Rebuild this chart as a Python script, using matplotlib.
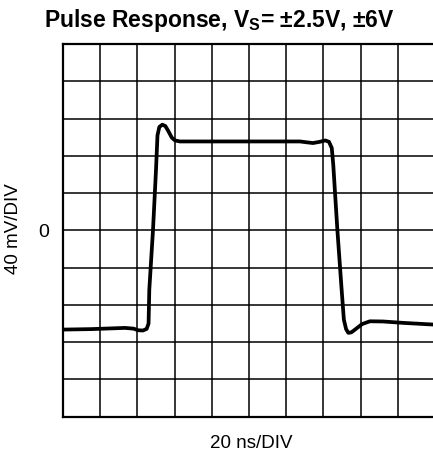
import matplotlib
matplotlib.use("Agg")
import matplotlib.pyplot as plt

plt.rcParams['font.family'] = ['Liberation Sans', 'DejaVu Sans']
plt.rcParams['mathtext.fontset'] = 'custom'
plt.rcParams['mathtext.rm'] = 'Liberation Sans'
plt.rcParams['mathtext.bf'] = 'Liberation Sans:bold'

# Scope trace: time (ns) and output voltage (mV)
time_ns = [0, 15, 33.3, 38, 40.3, 43, 45, 46, 46.4, 48.4, 50, 50.8, 51.8,
           53.4, 55, 56.5, 58.5, 60.2, 62.9, 90, 127.4, 131, 134.4, 138,
           141, 143, 144.5, 145.3, 147.5, 149.8, 151, 152.2, 153.4, 155,
           157, 160.8, 165, 172, 182.8, 199, 202]
voltage_mv = [-106.5, -106, -104.7, -105.5, -107.2, -107.5, -105.7, -100,
              -63.6, 0.8, 65, 102, 111, 113.4, 112, 107, 99.5, 96.5, 95.4,
              95.4, 95.4, 94.5, 93.7, 95, 96.5, 95, 88.4, 70.5, 0.8, -63.6,
              -95.8, -106, -110, -109.5, -106.5, -100.6, -97.6, -97.8,
              -99.3, -101.1, -101.3]

x_ticks = list(range(0, 201, 20))
y_ticks = list(range(-200, 201, 40))

fig = plt.figure(figsize=(4.33, 4.57), dpi=100)
ax = fig.add_axes([63 / 433, 1 - 416.7 / 457, 372 / 433, 372.7 / 457])

ax.plot(time_ns, voltage_mv, color='black', lw=2.7,
        solid_joinstyle='round', solid_capstyle='round', zorder=3)

ax.set_xlim(0, 200)
ax.set_ylim(-200, 200)
ax.set_xticks(x_ticks)
ax.set_yticks(y_ticks)
ax.set_xticklabels([])
ax.set_yticklabels(['0' if v == 0 else '' for v in y_ticks], fontsize=14)
ax.tick_params(length=0, pad=10)
ax.grid(True, color='black', lw=1.1)
for s in ax.spines.values():
    s.set_linewidth(1.6)
    s.set_color('black')

fig.text(14 / 433, 1 - 229 / 457, '40 mV/DIV', rotation=90,
         ha='center', va='center', fontsize=13.5)
fig.text(251 / 433, 1 - 443 / 457, '20 ns/DIV',
         ha='center', va='center', fontsize=13.5)
fig.text(219 / 433, 1 - 20 / 457, r'Pulse Response, V$_\mathbf{S}$= ±2.5V, ±6V',
         ha='center', va='center', fontsize=16.5, fontweight='bold')

fig.savefig('out.png', dpi=100)
